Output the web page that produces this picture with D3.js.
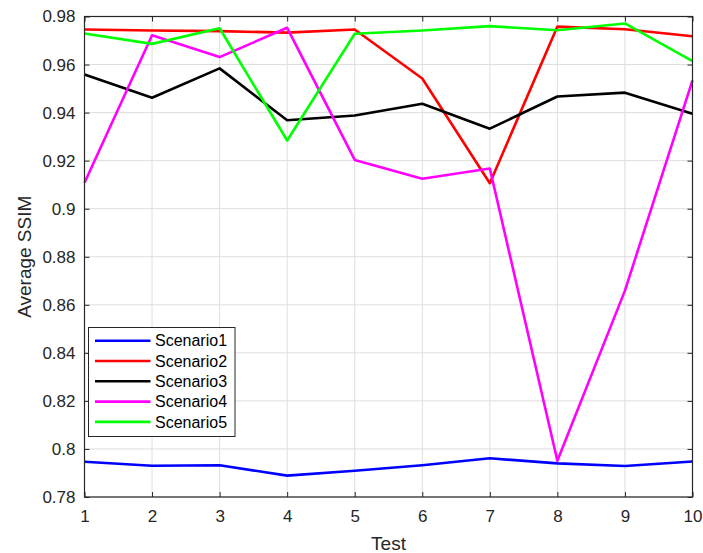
<!DOCTYPE html>
<html>
<head>
<meta charset="utf-8">
<script src="https://cdn.jsdelivr.net/npm/d3@7"></script>
<style>
  body { margin: 0; background: #fff; }
  svg { font-family: "Liberation Sans", Arial, Helvetica, sans-serif; }
</style>
</head>
<body>
<svg width="703" height="553"></svg>
<script>
const tests = [1, 2, 3, 4, 5, 6, 7, 8, 9, 10];
const scenario1 = [0.7947, 0.7930, 0.7932, 0.7889, 0.7909, 0.7932, 0.7961, 0.7940, 0.7929, 0.7948];
const scenario2 = [0.9746, 0.9742, 0.9739, 0.9733, 0.9746, 0.9542, 0.9106, 0.9758, 0.9747, 0.9718];
const scenario3 = [0.9559, 0.9462, 0.9584, 0.9368, 0.9388, 0.9437, 0.9333, 0.9467, 0.9483, 0.9395];
const scenario4 = [0.9108, 0.9722, 0.9631, 0.9753, 0.9203, 0.9125, 0.9167, 0.7951, 0.8659, 0.9534];
const scenario5 = [0.9729, 0.9686, 0.9751, 0.9284, 0.9728, 0.9742, 0.9760, 0.9743, 0.9771, 0.9614];
const seriesNames = ["Scenario1", "Scenario2", "Scenario3", "Scenario4", "Scenario5"];
const seriesColors = ["#0000ff", "#ff0000", "#000000", "#ff00ff", "#00ff00"];
const yTicks = [0.78, 0.8, 0.82, 0.84, 0.86, 0.88, 0.9, 0.92, 0.94, 0.96, 0.98];

const series = [scenario1, scenario2, scenario3, scenario4, scenario5];
const svg = d3.select("svg");
const pLeft = 84.5, pRight = 692.5, pTop = 16.5, pBottom = 497;

const x = d3.scaleLinear().domain([1, 10]).range([pLeft, pRight]);
const y = d3.scaleLinear().domain([0.78, 0.98]).range([pBottom, pTop]);

// grid
svg.append("g").selectAll("line").data(tests).enter().append("line")
  .attr("x1", d => x(d)).attr("x2", d => x(d))
  .attr("y1", pTop).attr("y2", pBottom)
  .attr("stroke", "#dedede").attr("stroke-width", 1);
svg.append("g").selectAll("line").data(yTicks).enter().append("line")
  .attr("x1", pLeft).attr("x2", pRight)
  .attr("y1", d => y(d)).attr("y2", d => y(d))
  .attr("stroke", "#dedede").attr("stroke-width", 1);

// axes
const xAxis = svg.append("g").attr("transform", `translate(0,${pBottom})`)
  .call(d3.axisBottom(x).tickValues(tests).tickSizeInner(-5).tickSizeOuter(0).tickPadding(13).tickFormat(d3.format("d")));
const yAxis = svg.append("g").attr("transform", `translate(${pLeft},0)`)
  .call(d3.axisLeft(y).tickValues(yTicks).tickSizeInner(-5).tickSizeOuter(0).tickPadding(9).tickFormat(d => String(+d.toFixed(2))));
svg.append("g").attr("transform", `translate(0,${pTop})`)
  .call(d3.axisTop(x).tickValues(tests).tickSizeInner(-5).tickSizeOuter(0).tickFormat(""));
svg.append("g").attr("transform", `translate(${pRight},0)`)
  .call(d3.axisRight(y).tickValues(yTicks).tickSizeInner(-5).tickSizeOuter(0).tickFormat(""));

svg.selectAll(".domain").remove();
svg.selectAll(".tick line").attr("stroke", "#262626");
[xAxis, yAxis].forEach(a => a.selectAll("text")
  .attr("fill", "#262626").style("font-size", "17px").style("font-family", "Liberation Sans, Arial, sans-serif"));

// lines
const line = d3.line().x((d, i) => x(tests[i])).y(d => y(d));
series.forEach((s, k) => {
  svg.append("path").datum(s)
    .attr("d", line)
    .attr("fill", "none")
    .attr("stroke", seriesColors[k])
    .attr("stroke-width", 2.6)
    .attr("stroke-linejoin", "round");
});

// box
svg.append("rect")
  .attr("x", pLeft).attr("y", pTop)
  .attr("width", pRight - pLeft).attr("height", pBottom - pTop)
  .attr("fill", "none").attr("stroke", "#262626").attr("stroke-width", 1.2);

// axis labels
svg.append("text").attr("x", (pLeft + pRight) / 2).attr("y", 550)
  .attr("text-anchor", "middle").attr("fill", "#262626").style("font-size", "19px").text("Test");
svg.append("text").attr("transform", `translate(31,${(pTop + pBottom) / 2}) rotate(-90)`)
  .attr("text-anchor", "middle").attr("fill", "#262626").style("font-size", "19px").text("Average SSIM");

// legend
const lg = svg.append("g");
lg.append("rect").attr("x", 88.5).attr("y", 327.5).attr("width", 146.5).attr("height", 109)
  .attr("fill", "#fff").attr("stroke", "#262626").attr("stroke-width", 1);
seriesNames.forEach((name, k) => {
  const cy = 340.7 + k * 20.3;
  lg.append("line").attr("x1", 95).attr("x2", 150.5).attr("y1", cy).attr("y2", cy)
    .attr("stroke", seriesColors[k]).attr("stroke-width", 2.6);
  lg.append("text").attr("x", 155).attr("y", cy).attr("dy", "0.36em")
    .attr("fill", "#000").style("font-size", "16px").text(name);
});
</script>
</body>
</html>
